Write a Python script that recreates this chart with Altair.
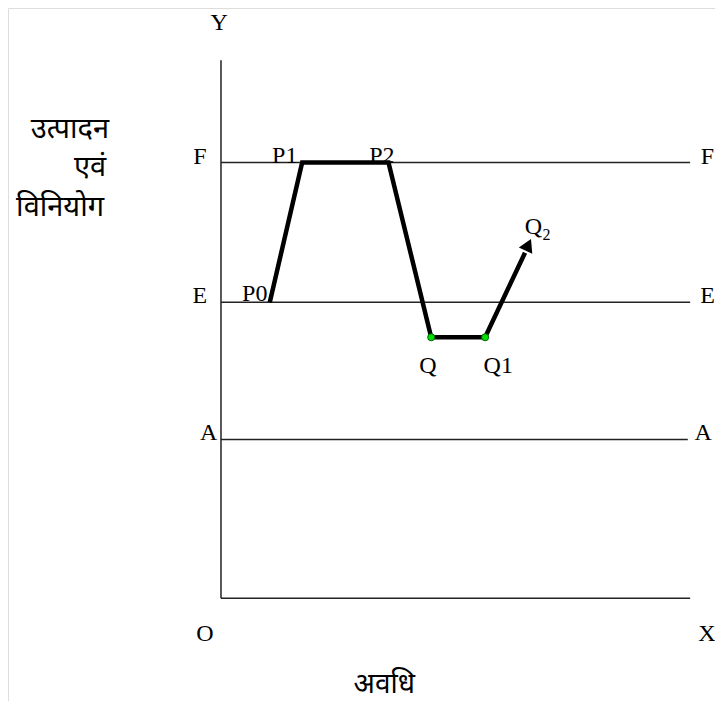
import altair as alt
import pandas as pd

# Levels (y) of the reference lines
levels = ["F", "E", "A"]
level_y = [8.1, 5.5, 2.95]
line_end_x = [10.0, 10.0, 9.95]

# Production path points
path_names = ["P0", "P1", "P2", "Q", "Q1", "Q2"]
path_x = [1.04, 1.73, 3.57, 4.48, 5.63, 6.48]
path_y = [5.5, 8.1, 8.1, 4.85, 4.85, 6.42]

# arrow head
arrow_x = [6.55]
arrow_y = [6.57]

# green dots
dot_x = [4.48, 5.63]
dot_y = [4.85, 4.85]

# serif labels
lab_text = ["Y", "O", "X", "F", "F", "E", "E", "A", "A", "P0", "P1", "P2", "Q", "Q1", "Q"]
lab_x = [-0.04, -0.34, 10.36, -0.45, 10.37, -0.45, 10.37, -0.26, 10.28, 0.72, 1.36, 3.43, 4.41, 5.91, 6.66]
lab_y = [10.70, -0.67, -0.67, 8.20, 8.20, 5.61, 5.61, 3.07, 3.07, 5.65, 8.22, 8.22, 4.31, 4.31, 6.90]

sub_text = ["2"]
sub_x = [6.94]
sub_y = [6.76]

# Hindi titles
hi_text = ["उत्पादन", "एवं", "विनियोग"]
hi_x = [-3.22, -2.79, -3.43]
hi_y = [8.72, 8.02, 7.28]

xt_text = ["अवधि"]
xt_x = [3.48]
xt_y = [-1.62]

XD = [-4.54, 10.53]
YD = [-1.91, 10.97]
xs = alt.Scale(domain=XD, nice=False, zero=False)
ys = alt.Scale(domain=YD, nice=False, zero=False)

def X(f):
    return alt.X(f, type="quantitative", scale=xs, axis=None)

def Y(f):
    return alt.Y(f, type="quantitative", scale=ys, axis=None)

axes_df = pd.DataFrame({"x": [0, 0], "y": [0, 0], "x2": [0, 10.0], "y2": [10.0, 0]})
axes = alt.Chart(axes_df).mark_rule(color="#222", strokeWidth=1.5).encode(
    x=X("x"), y=Y("y"), x2="x2", y2="y2")

lev_df = pd.DataFrame({"name": levels, "y": level_y, "x0": [0] * 3, "x1": line_end_x})
lev = alt.Chart(lev_df).mark_rule(color="#222", strokeWidth=1.5).encode(
    x=X("x0"), x2="x1", y=Y("y"))

path_df = pd.DataFrame({"name": path_names, "x": path_x, "y": path_y, "o": list(range(len(path_x)))})
path = alt.Chart(path_df).mark_line(color="black", strokeWidth=4.5, strokeJoin="miter", strokeCap="butt").encode(
    x=X("x"), y=Y("y"), order="o")

arrow = alt.Chart(pd.DataFrame({"x": arrow_x, "y": arrow_y})).mark_point(
    shape="triangle-up", filled=True, color="black", size=220, angle=25, opacity=1).encode(
    x=X("x"), y=Y("y"))

dots = alt.Chart(pd.DataFrame({"x": dot_x, "y": dot_y})).mark_point(
    shape="circle", filled=True, fill="#00e000", stroke="#006600", strokeWidth=1, size=50, opacity=1).encode(
    x=X("x"), y=Y("y"))

labs = alt.Chart(pd.DataFrame({"t": lab_text, "x": lab_x, "y": lab_y})).mark_text(
    font="Liberation Serif", fontSize=24, color="black", align="center", baseline="middle").encode(
    x=X("x"), y=Y("y"), text="t")

subs = alt.Chart(pd.DataFrame({"t": sub_text, "x": sub_x, "y": sub_y})).mark_text(
    font="Liberation Serif", fontSize=16, color="black", align="center", baseline="middle").encode(
    x=X("x"), y=Y("y"), text="t")

hi = alt.Chart(pd.DataFrame({"t": hi_text, "x": hi_x, "y": hi_y})).mark_text(
    font="Noto Sans", fontSize=29, color="black", align="center", baseline="middle").encode(
    x=X("x"), y=Y("y"), text="t")

xt = alt.Chart(pd.DataFrame({"t": xt_text, "x": xt_x, "y": xt_y})).mark_text(
    font="Noto Sans", fontSize=28, color="black", align="center", baseline="middle").encode(
    x=X("x"), y=Y("y"), text="t")

chart = alt.layer(axes, lev, path, arrow, dots, labs, subs, hi, xt).properties(
    width=707, height=693, padding=0, autosize="none"
).configure_view(stroke="transparent", strokeWidth=0).configure(background="white")

chart.save("out.html", embed_options={"renderer": "svg", "actions": False})
